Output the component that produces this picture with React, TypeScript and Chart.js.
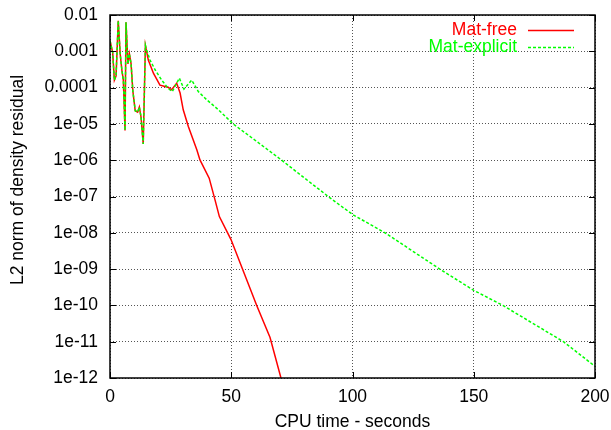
import React, { useEffect, useRef } from "react";
import { Chart, registerables } from "chart.js";

Chart.register(...registerables);

// ---- Data ----
const timeFree = [
  0, 1.1, 1.8, 2.5, 3.4, 4.2, 4.9, 5.5, 6.2, 6.6, 7.4, 8.0, 8.7, 9.4, 10.4, 11.4, 12.1, 12.8, 13.7, 14.6,
  15.8, 17.9, 20.6, 22.7, 24.0, 25.4, 27.5, 28.9, 30.2, 32.3, 35.8, 37.1, 40.9, 43.3, 45.1, 49.9, 60.5, 66.0, 70.5,
];
const residualFree = [
  1.95e-3, 9.3e-4, 1.6e-4, 2.1e-4, 6.9e-3, 8.5e-4, 3.0e-4, 1.6e-4, 6.6e-6, 6.3e-3, 4.5e-4, 8.5e-4, 4.5e-4, 8.3e-5,
  2.3e-5, 2.1e-5, 2.9e-5, 1.55e-5, 2.8e-6, 1.45e-3,
  5.75e-4, 2.5e-4, 1.17e-4, 1.07e-4, 1.02e-4, 8.7e-5, 1.32e-4, 7.1e-5, 2.45e-5, 8.5e-6, 1.95e-6, 1.02e-6, 3.2e-7,
  8.1e-8, 2.8e-8, 6.5e-9, 1.0e-10, 1.3e-11, 1.0e-12,
];
const timeExplicit = [
  0, 1.1, 1.8, 2.5, 3.4, 4.2, 4.9, 5.5, 6.2, 6.6, 7.4, 8.0, 8.7, 9.4, 10.4, 11.4, 12.1, 12.8, 13.7, 14.6,
  15.1, 16.5, 18.6, 21.3, 24.0, 25.7, 28.6, 30.5, 33.7, 36.4, 39.9, 44.7, 50.8, 70.8, 78.4, 90, 100, 113.4, 136,
  150, 162, 187, 200,
];
const residualExplicit = [
  1.95e-3, 9.3e-4, 1.6e-4, 2.1e-4, 6.9e-3, 8.5e-4, 3.0e-4, 1.6e-4, 6.6e-6, 6.3e-3, 4.5e-4, 8.5e-4, 4.5e-4, 8.3e-5,
  2.3e-5, 2.1e-5, 2.9e-5, 1.55e-5, 2.8e-6, 1.45e-3,
  1.1e-3, 5.75e-4, 3.1e-4, 1.62e-4, 9.5e-5, 7.8e-5, 1.82e-4, 9.1e-5, 1.62e-4, 7.8e-5, 4.6e-5, 2.45e-5, 1.0e-5,
  1.0e-6, 4.0e-7, 1.0e-7, 3.2e-8, 1.0e-8, 1.0e-9, 2.6e-10, 1.0e-10, 1.0e-11, 2.1e-12,
];
const seriesLabels = ["Mat-free", "Mat-explicit"];
const yTickValues = [1e-12, 1e-11, 1e-10, 1e-9, 1e-8, 1e-7, 1e-6, 1e-5, 1e-4, 1e-3, 1e-2];
const yTickLabels = ["1e-12", "1e-11", "1e-10", "1e-09", "1e-08", "1e-07", "1e-06", "1e-05", "0.0001", "0.001", "0.01"];
const xTickValues = [0, 50, 100, 150, 200];
const xTitle = "CPU time - seconds";
const yTitle = "L2 norm of density residual";

const FONT = "'Liberation Sans', Arial, Helvetica, sans-serif";
const FS = 17.5;
const RED = "#ff0000";
const GREEN = "#00ff00";

const framePlugin = {
  id: "gnuFrame",
  afterDraw(chart: any) {
    const { ctx, chartArea } = chart;
    const { left, right, top, bottom } = chartArea;
    const xs = chart.scales.x;
    const ys = chart.scales.y;
    ctx.save();
    ctx.strokeStyle = "#000";
    ctx.lineWidth = 1;
    ctx.beginPath();
    const tl = 6;
    yTickValues.forEach((v) => {
      const y = Math.round(ys.getPixelForValue(v)) + 0.5;
      ctx.moveTo(left, y);
      ctx.lineTo(left + tl, y);
      ctx.moveTo(right, y);
      ctx.lineTo(right - tl, y);
    });
    xTickValues.forEach((v) => {
      const x = Math.round(xs.getPixelForValue(v)) + 0.5;
      ctx.moveTo(x, bottom);
      ctx.lineTo(x, bottom - tl);
      ctx.moveTo(x, top);
      ctx.lineTo(x, top + tl);
    });
    ctx.stroke();
    ctx.lineWidth = 1.5;
    ctx.strokeRect(left, top, right - left, bottom - top);

    ctx.fillStyle = "#000";
    ctx.font = `${FS}px ${FONT}`;
    ctx.textAlign = "center";
    ctx.textBaseline = "middle";
    ctx.translate(18.5, 180);
    ctx.rotate(-Math.PI / 2);
    ctx.fillText(yTitle, 0, 0);
    ctx.restore();

    ctx.save();
    ctx.font = `${FS}px ${FONT}`;
    ctx.textAlign = "right";
    ctx.textBaseline = "middle";
    const items = chart.data.datasets;
    items.forEach((ds: any, i: number) => {
      const y = 29.5 + i * 17;
      ctx.fillStyle = ds.borderColor;
      ctx.fillText(ds.label, 517, y + 0.5);
      ctx.strokeStyle = ds.borderColor;
      ctx.lineWidth = ds.borderWidth;
      ctx.setLineDash(ds.borderDash || []);
      ctx.beginPath();
      ctx.moveTo(528, Math.round(y) + 0.5);
      ctx.lineTo(574, Math.round(y) + 0.5);
      ctx.stroke();
    });
    ctx.restore();
  },
};

export default function App() {
  const ref = useRef<HTMLCanvasElement | null>(null);
  useEffect(() => {
    document.body.style.margin = "0";
    const canvas = ref.current!;
    const chart = new Chart(canvas, {
      type: "line",
      data: {
        datasets: [
          {
            label: seriesLabels[0],
            data: timeFree.map((x, i) => ({ x, y: residualFree[i] })),
            borderColor: RED,
            backgroundColor: RED,
            borderWidth: 1.5,
            pointRadius: 0,
            tension: 0,
            fill: false,
            order: 1,
          },
          {
            label: seriesLabels[1],
            data: timeExplicit.map((x, i) => ({ x, y: residualExplicit[i] })),
            borderColor: GREEN,
            backgroundColor: GREEN,
            borderWidth: 1.5,
            borderDash: [3, 2],
            pointRadius: 0,
            tension: 0,
            fill: false,
            order: 0,
          },
        ],
      },
      options: {
        responsive: false,
        animation: false,
        layout: { padding: { top: 15, right: 16, left: 0, bottom: 0 } },
        plugins: { legend: { display: false }, tooltip: { enabled: false } },
        scales: {
          x: {
            type: "linear",
            min: 0,
            max: 200,
            afterBuildTicks: (s: any) => {
              s.ticks = xTickValues.map((v) => ({ value: v }));
            },
            afterFit: (s: any) => {
              s.height = 52;
              s.paddingLeft = 0;
              s.paddingRight = 0;
            },
            ticks: {
              autoSkip: false,
              maxRotation: 0,
              color: "#000",
              font: { family: FONT, size: FS },
              padding: 9,
            },
            grid: { color: "#555", drawTicks: false, lineWidth: 1 },
            border: { display: false, dash: [1, 2] },
            title: {
              display: true,
              text: xTitle,
              color: "#000",
              font: { family: FONT, size: FS },
              padding: { top: 4, bottom: -3 },
            },
          },
          y: {
            type: "logarithmic",
            min: 1e-12,
            max: 1e-2,
            afterBuildTicks: (s: any) => {
              s.ticks = yTickValues.map((v) => ({ value: v, major: true }));
            },
            afterFit: (s: any) => {
              s.width = 110;
              s.paddingTop = 0;
              s.paddingBottom = 0;
            },
            ticks: {
              autoSkip: false,
              color: "#000",
              font: { family: FONT, size: FS },
              padding: 12,
              callback: (_v: any, i: number) => yTickLabels[i],
            },
            grid: { color: "#555", drawTicks: false, lineWidth: 1 },
            border: { display: false, dash: [1, 2] },
          },
        },
      },
      plugins: [framePlugin],
    } as any);
    return () => chart.destroy();
  }, []);
  return <canvas ref={ref} width={611} height={430} style={{ display: "block" }} />;
}
